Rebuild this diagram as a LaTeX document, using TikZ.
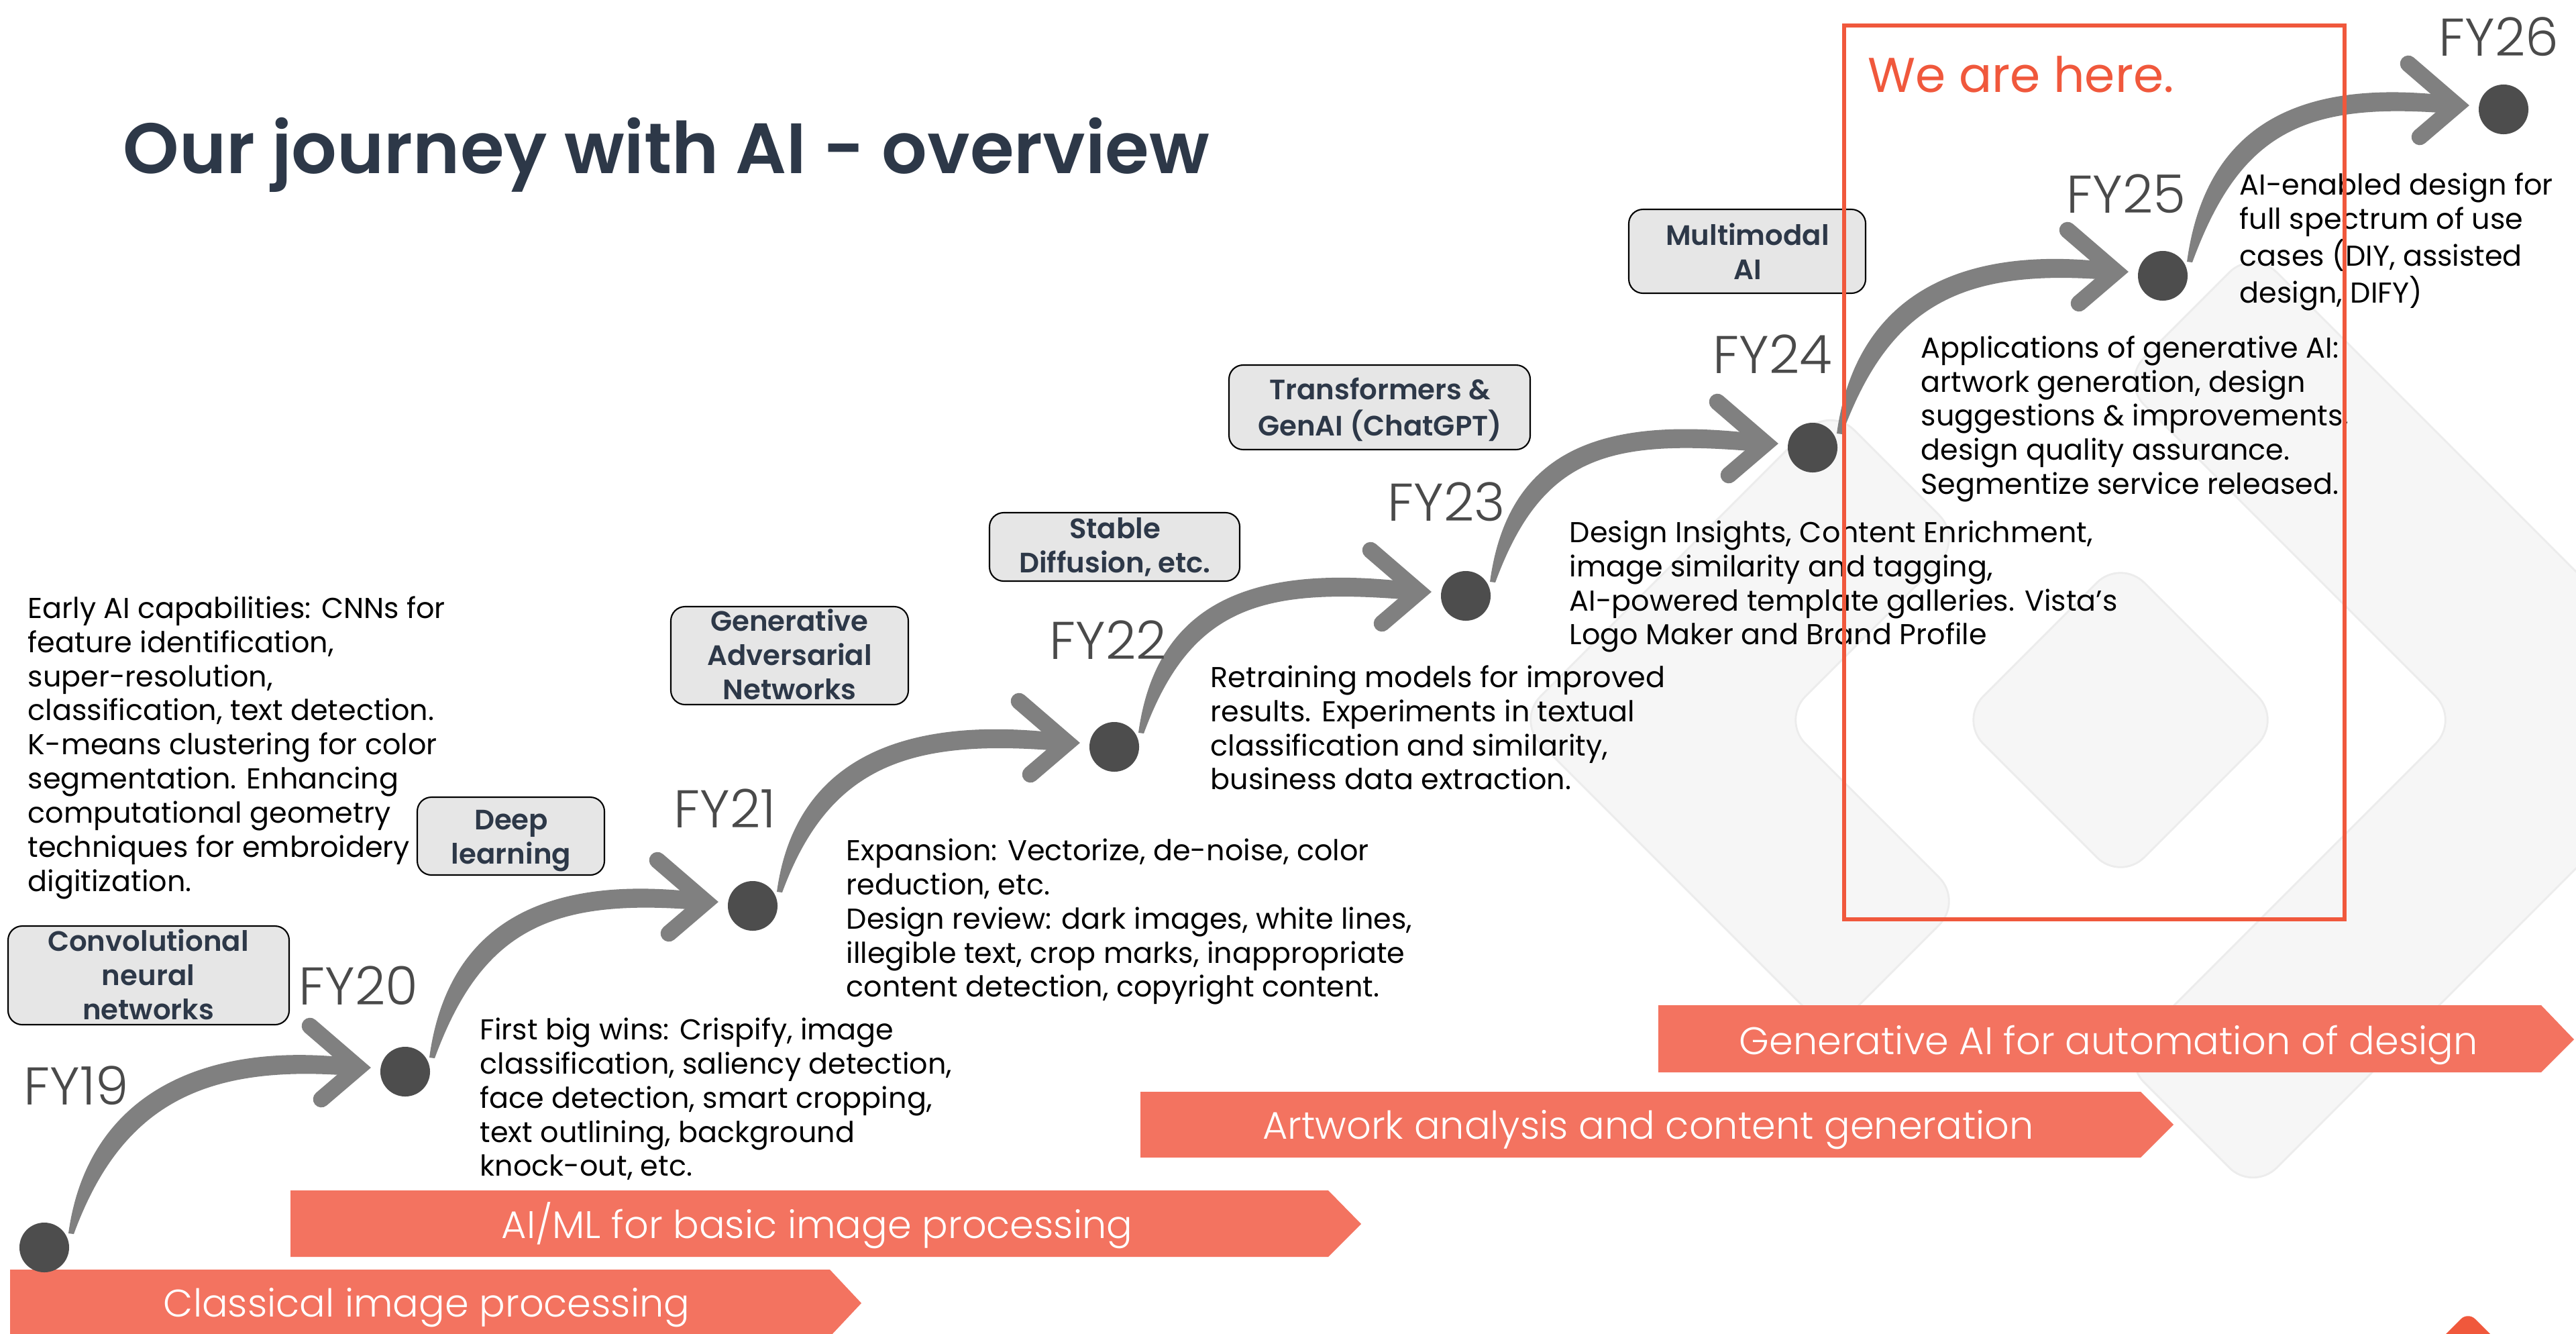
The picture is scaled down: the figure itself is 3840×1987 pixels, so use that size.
\documentclass[tikz,border=0pt]{standalone}
\usepackage{fontspec}
\setmainfont{Poppins}[BoldFont={Poppins SemiBold}]
\newfontfamily\lightfont{Poppins Light}
\usetikzlibrary{calc}
\definecolor{navy}{RGB}{45,56,72}
\definecolor{boxfill}{RGB}{230,230,230}
\definecolor{arrowgray}{RGB}{128,128,128}
\definecolor{dotgray}{RGB}{77,77,77}
\definecolor{fygray}{RGB}{74,74,74}
\definecolor{bannerc}{RGB}{243,115,96}
\definecolor{hered}{RGB}{240,88,60}
\definecolor{wmark}{RGB}{246,246,246}
\definecolor{wedge}{RGB}{236,236,236}
\newcommand\blkl[1]{\begin{tabular}[t]{@{}l@{}}#1\end{tabular}}
\newcommand\blkc[1]{\begin{tabular}[t]{@{}c@{}}#1\end{tabular}}
\newcommand\swoosh[2]{%
  \coordinate (S) at ($(#1)+(40,-21)$);
  \coordinate (T) at ($(#2)+(-70,-6)$);
  \coordinate (P1) at ($(S)+(50,-200)$);
  \coordinate (P2) at ($(T)+(-230,-25)$);
  \fill[shaft] ($(S)+(-4,0)$) .. controls ($(P1)+(-26,-5)$) and ($(P2)+(-4,-18)$) .. ($(T)+(0,-13)$)
     -- ($(T)+(0,13)$) .. controls ($(P2)+(4,18)$) and ($(P1)+(26,5)$) .. ($(S)+(4,1)$) -- cycle;
  \draw[head] ($(T)+(-72,-62)$) -- (T) -- ($(T)+(-55,47)$);
}
\tikzset{
  body/.style={anchor=base west, inner sep=0, font=\fontsize{12.2}{14.5}\selectfont, text=black},
  erabox/.style={draw=black, line width=0.6pt, fill=boxfill, rounded corners=6pt},
  eratext/.style={anchor=base, inner sep=0, font=\bfseries\fontsize{11.9}{14.6}\selectfont, text=navy},
  fylabel/.style={anchor=base west, inner sep=0, font=\lightfont\fontsize{22.5}{26}\selectfont, text=fygray},
  bantext/.style={anchor=base, inner sep=0, font=\lightfont\fontsize{16.3}{19}\selectfont, text=white},
  shaft/.style={fill=arrowgray},
  head/.style={draw=arrowgray, line width=7pt, line cap=round, line join=miter},
  wm/.style={fill=wmark, draw=wedge, line width=0.8pt, rounded corners=0.5cm},
}
\begin{document}
\begin{tikzpicture}[x=0.01cm, y=-0.01cm]
\useasboundingbox (0,0) rectangle (3840,1987);
\clip (0,0) rectangle (3840,1987);
\fill[white] (0,0) rectangle (3840,1987);
% watermark
\filldraw[wm] (2728.5,605.5) -- (2261,1073) -- (2728.5,1540.5) -- (2926,1343) -- (2656,1073) -- (2926,803) -- cycle;
\filldraw[wm] (3161,568) -- (3358.5,370.5) -- (4061,1073) -- (3358.5,1775.5) -- (3161,1578) -- (3666,1073) -- cycle;
\filldraw[wm] (3161,833) -- (3401,1073) -- (3161,1313) -- (2921,1073) -- cycle;
\fill[hered, rounded corners=0.15cm] (3679,1955) -- (3800,2076) -- (3679,2197) -- (3558,2076) -- cycle;
% title
\node[anchor=base west, inner sep=0, font=\bfseries\fontsize{30.2}{36}\selectfont, text=navy] (title) at (183,258) {Our journey with AI - overview};
% banners
\fill[bannerc] (15,1892) -- (1237,1892) -- (1284,1942) -- (1237,1992) -- (15,1992) -- cycle;
\node[bantext] (b1) at (636,1962) {Classical image processing};
\fill[bannerc] (433,1774) -- (1980,1774) -- (2029,1824) -- (1980,1873) -- (433,1873) -- cycle;
\node[bantext] (b2) at (1218,1845) {AI/ML for basic image processing};
\fill[bannerc] (1700,1627) -- (3191,1627) -- (3240,1676) -- (3191,1725) -- (1700,1725) -- cycle;
\node[bantext] (b3) at (2457,1697) {Artwork analysis and content generation};
\fill[bannerc] (2472,1498) -- (3788,1498) -- (3837,1549) -- (3788,1598) -- (2472,1598) -- cycle;
\node[bantext] (b4) at (3143,1571) {Generative AI for automation of design};
% dots
\coordinate (d19) at (66,1859);
\coordinate (d20) at (604,1597);
\coordinate (d21) at (1122,1350);
\coordinate (d22) at (1661,1113);
\coordinate (d23) at (2185,888);
\coordinate (d24) at (2702,667);
\coordinate (d25) at (3224,411);
\coordinate (d26) at (3732,163);
\swoosh{d19}{d20}
\swoosh{d20}{d21}
\swoosh{d21}{d22}
\swoosh{d22}{d23}
\swoosh{d23}{d24}
\swoosh{d24}{d25}
\swoosh{d25}{d26}
\foreach \d in {d19,d20,d21,d22,d23,d24,d25,d26} \fill[dotgray] (\d) circle (0.37cm);
% FY labels
\node[fylabel] (fy19) at (35,1646) {FY19};
\node[fylabel] (fy20) at (445,1497) {FY20};
\node[fylabel] (fy21) at (1004,1233) {FY21};
\node[fylabel] (fy22) at (1564,982) {FY22};
\node[fylabel] (fy23) at (2068,776) {FY23};
\node[fylabel] (fy24) at (2553,556) {FY24};
\node[fylabel] (fy25) at (3080,317) {FY25};
\node[fylabel] (fy26) at (3635,83) {FY26};
% body texts
\node[body] (ta) at (41,921) {\blkl{Early AI capabilities: CNNs for\\feature identification,\\super-resolution,\\classification, text detection.\\K-means clustering for color\\segmentation. Enhancing\\computational geometry\\techniques for embroidery\\digitization.}};
\node[body] (tb) at (715,1549) {\blkl{First big wins: Crispify, image\\classification, saliency detection,\\face detection, smart cropping,\\text outlining, background\\knock-out, etc.}};
\node[body] (tc) at (1261,1282) {\blkl{Expansion: Vectorize, de-noise, color\\reduction, etc.\\Design review: dark images, white lines,\\illegible text, crop marks, inappropriate\\content detection, copyright content.}};
\node[body] (td) at (1804,1024) {\blkl{Retraining models for improved\\results. Experiments in textual\\classification and similarity,\\business data extraction.}};
\node[body] (te) at (2339,808) {\blkl{Design Insights, Content Enrichment,\\image similarity and tagging,\\AI-powered template galleries. Vista’s\\Logo Maker and Brand Profile}};
\node[body] (tf) at (2863,533) {\blkl{Applications of generative AI:\\artwork generation, design\\suggestions \& improvements,\\design quality assurance.\\Segmentize service released.}};
\node[body] (tg) at (3338,290) {\blkl{AI-enabled design for\\full spectrum of use\\cases (DIY, assisted\\design, DIFY)}};
% era boxes
\draw[erabox] (12,1380) rectangle (431,1527);
\node[eratext] (e1) at (221,1417) {\blkc{Convolutional\\neural\\networks}};
\draw[erabox] (622,1188) rectangle (901,1304);
\node[eratext] (e2) at (762,1236) {\blkc{Deep\\learning}};
\draw[erabox] (1000,904) rectangle (1354,1050);
\node[eratext] (e3) at (1177,940) {\blkc{Generative\\Adversarial\\Networks}};
\draw[erabox] (1475,764) rectangle (1848,866);
\node[eratext] (e4) at (1662,802) {\blkc{Stable\\Diffusion, etc.}};
\draw[erabox] (1832,544) rectangle (2281,670);
\node[eratext] (e5) at (2057,595) {\blkc{Transformers \&\\GenAI (ChatGPT)}};
\draw[erabox] (2428,312) rectangle (2781,437);
\node[eratext] (e6) at (2605,365) {\blkc{Multimodal\\AI}};
% we are here
\draw[hered, line width=1.7pt] (2749,38) rectangle (3495,1370);
\node[anchor=base west, inner sep=0, font=\fontsize{20.7}{24}\selectfont, text=hered] (here) at (2784,137) {We are here.};
\end{tikzpicture}
\end{document}
